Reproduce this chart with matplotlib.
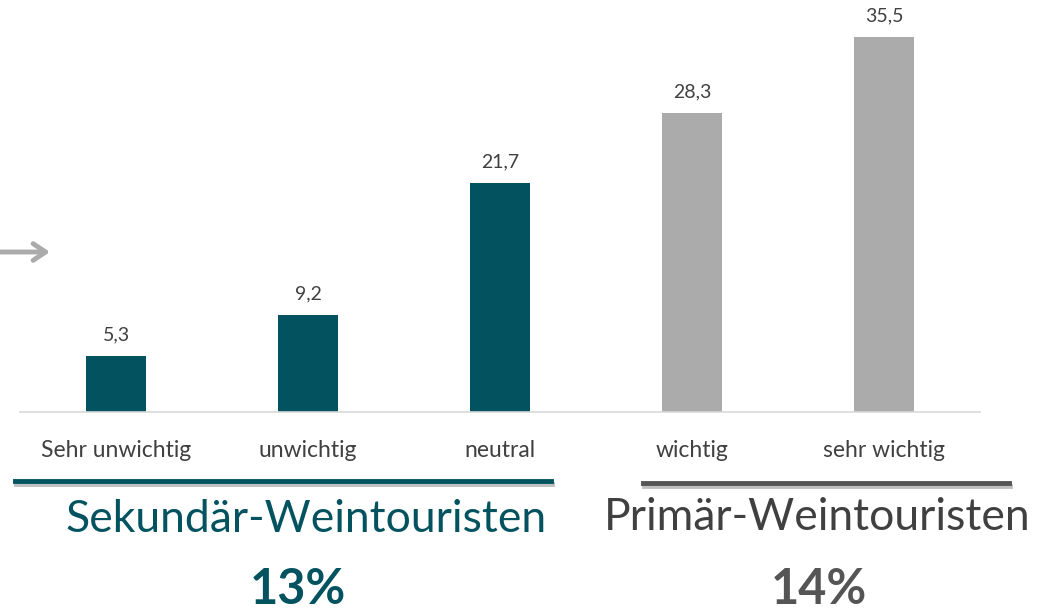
import matplotlib.pyplot as plt
from matplotlib import patheffects

categories = ["Sehr unwichtig", "unwichtig", "neutral", "wichtig", "sehr wichtig"]
values = [5.3, 9.2, 21.7, 28.3, 35.5]
value_labels = ["5,3", "9,2", "21,7", "28,3", "35,5"]
groups = ["Sekundär-Weintouristen", "Primär-Weintouristen"]
group_shares = ["13%", "14%"]

TEAL = "#02535f"
GRAY = "#ababab"
DARK = "#555555"

plt.rcParams['font.family'] = ['Lato', 'DejaVu Sans']

fig = plt.figure(figsize=(10.44, 6.15), dpi=100)
ax = fig.add_axes([20 / 1044, 1 - 412 / 615, 960 / 1044, 412 / 615])

colors = [TEAL, TEAL, TEAL, GRAY, GRAY]
x = list(range(len(values)))
bars = ax.bar(x, values, width=0.31, color=colors)
for b, lab in zip(bars, value_labels):
    ax.text(b.get_x() + b.get_width() / 2, b.get_height() + 2.0, lab,
            ha="center", va="center", fontsize=14, color="#404040")

ax.set_xlim(-0.5, 4.5)
ax.set_ylim(0, 39)
for s in ["top", "right", "left"]:
    ax.spines[s].set_visible(False)
ax.spines["bottom"].set_color("#d9d9d9")
ax.spines["bottom"].set_linewidth(1.2)
ax.set_yticks([])
ax.set_xticks(x)
ax.set_xticklabels(categories, fontsize=16.5, color="#404040")
ax.tick_params(axis="x", length=0, pad=20)

# group underlines
shadow = [patheffects.SimpleLineShadow(offset=(1, -2), alpha=0.25), patheffects.Normal()]
fig.add_artist(plt.Line2D([15 / 1044, 551 / 1044], [1 - 481 / 615] * 2, color=TEAL,
                          lw=3.5, path_effects=shadow))
fig.add_artist(plt.Line2D([643 / 1044, 1009 / 1044], [1 - 483 / 615] * 2, color=DARK,
                          lw=3.5, path_effects=shadow))

fig.text(306 / 1044, 1 - 520 / 615, groups[0], ha="center", va="center",
         fontsize=32, color=TEAL)
fig.text(817 / 1044, 1 - 518 / 615, groups[1], ha="center", va="center",
         fontsize=32, color="#404040")
fig.text(298 / 1044, 1 - 590 / 615, group_shares[0], ha="center", va="center",
         fontsize=35, fontweight="bold", color=TEAL)
fig.text(819 / 1044, 1 - 590 / 615, group_shares[1], ha="center", va="center",
         fontsize=35, fontweight="bold", color=DARK)

# arrow at left edge
ax.annotate("", xy=(50 / 1044, 1 - 252 / 615), xytext=(0, 1 - 252 / 615),
            xycoords="figure fraction",
            arrowprops=dict(arrowstyle="->,head_length=0.9,head_width=0.6",
                            color=GRAY, lw=3.5, shrinkA=0, shrinkB=0,
                            capstyle="round", joinstyle="round"))

fig.savefig("out.png", dpi=100)
